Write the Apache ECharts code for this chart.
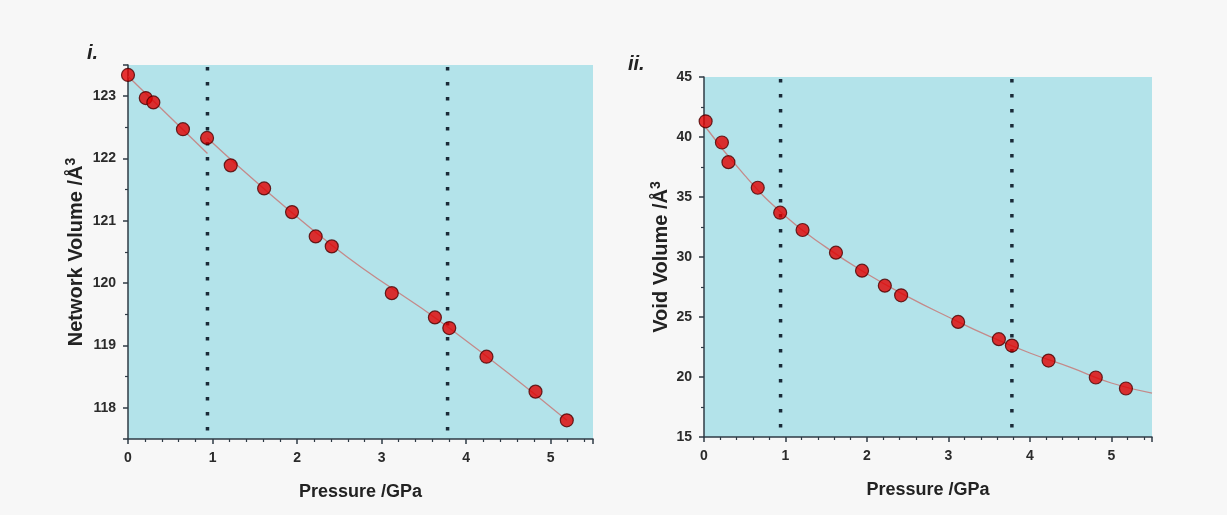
<!DOCTYPE html>
<html>
<head>
<meta charset="utf-8">
<script src="https://cdn.jsdelivr.net/npm/echarts@6/dist/echarts.min.js"></script>
<style>
html,body{margin:0;padding:0;background:#f7f7f7;}
#chart{width:1227px;height:515px;}
</style>
</head>
<body>
<div id="chart"></div>
<script>
// ---- Data ----
const pressureNetwork = [0, 0.21, 0.30, 0.65, 0.935, 1.215, 1.61, 1.94, 2.22, 2.41, 3.12, 3.63, 3.80, 4.24, 4.82, 5.19];
const networkVolume   = [123.34, 122.97, 122.90, 122.47, 122.33, 121.89, 121.52, 121.14, 120.75, 120.59, 119.84, 119.45, 119.28, 118.82, 118.26, 117.80];

const pressureVoid = [0.02, 0.22, 0.30, 0.66, 0.935, 1.21, 1.62, 1.94, 2.22, 2.42, 3.12, 3.62, 3.78, 4.23, 4.81, 5.18];
const voidVolume   = [41.31, 39.54, 37.90, 35.77, 33.69, 32.25, 30.36, 28.86, 27.61, 26.81, 24.59, 23.15, 22.62, 21.37, 19.96, 19.04];

// fit lines
const networkFitLowP = [0, 0.94];
const networkFitLowV = [123.32, 122.08];
const networkFitHighP = [0.94, 2.4, 3.8, 5.19];
const networkFitHighV = [122.33, 120.62, 119.28, 117.80];

const voidFitP = [0, 0.5, 1, 1.5, 2, 2.5, 3, 3.5, 4, 4.5, 5, 5.5];
const voidFitV = [41.0, 36.8, 33.4, 30.8, 28.6, 26.7, 25.0, 23.4, 22.0, 20.8, 19.5, 18.65];

const transitionPressures = [0.94, 3.78];

const panelLabels = ['i.', 'ii.'];
const yTitles = ['Network Volume /Å', 'Void Volume /Å'];
const xTitle = 'Pressure /GPa';

// ---- helpers ----
const zip = (a, b) => a.map((v, i) => [v, b[i]]);
const axisColor = '#2f3b45';
const labelStyle = {color: '#2b2b2b', fontFamily: 'Liberation Sans, Arial, sans-serif', fontWeight: 'bold', fontSize: 14};

function xAxisCfg(gi) {
  return {
    gridIndex: gi, type: 'value', min: 0, max: 5.5, interval: 1,
    name: xTitle, nameLocation: 'middle', nameGap: 44,
    nameTextStyle: {color: '#222', fontFamily: 'Liberation Sans, Arial, sans-serif', fontWeight: 'bold', fontSize: 18},
    axisLine: {show: true, lineStyle: {color: axisColor, width: 1.5}},
    axisTick: {show: true, length: 5, lineStyle: {color: axisColor, width: 1.5}},
    minorTick: {show: true, splitNumber: 5, length: 3, lineStyle: {color: axisColor, width: 1.2}},
    axisLabel: Object.assign({margin: 12, showMaxLabel: false}, labelStyle),
    splitLine: {show: false}
  };
}
function yAxisCfg(gi, min, max, extra, gap) {
  return Object.assign({
    gridIndex: gi, type: 'value', min: min, max: max,
    name: yTitles[gi] + '{sup|3}', nameLocation: 'middle', nameGap: gap, nameRotate: 90,
    nameTextStyle: {color: '#222', fontFamily: 'Liberation Sans, Arial, sans-serif', fontWeight: 'bold', fontSize: 20,
      rich: {sup: {fontFamily: 'Liberation Sans, Arial, sans-serif', fontWeight: 'bold', fontSize: 14, color: '#222', verticalAlign: 'top', padding: [0, 0, 10, 0]}}},
    axisLine: {show: true, lineStyle: {color: axisColor, width: 1.5}},
    axisTick: {show: true, length: 5, lineStyle: {color: axisColor, width: 1.5}},
    minorTick: {show: true, splitNumber: 2, length: 3, lineStyle: {color: axisColor, width: 1.2}},
    axisLabel: Object.assign({margin: 12}, labelStyle),
    splitLine: {show: false}
  }, extra);
}
function dotted(gi, p, ymin, ymax) {
  return {
    type: 'line', xAxisIndex: gi, yAxisIndex: gi, data: [[ymax === 45 ? p : p, ymax], [p, ymin]],
    showSymbol: false, silent: true, z: 3,
    lineStyle: {color: '#1a2a38', width: 3.5, type: [3.5, 11.5], dashOffset: -2}
  };
}
const scatterStyle = {color: '#e10000', borderColor: '#4a0000', borderWidth: 1.2};
const fitStyle = {color: '#c48a8a', width: 1.3};

const option = {
  backgroundColor: '#f7f7f7',
  animation: false,
  title: [
    {text: panelLabels[0], left: 82, top: 38, textStyle: {fontFamily: 'Liberation Sans, Arial, sans-serif', fontStyle: 'italic', fontWeight: 'bold', fontSize: 20, color: '#222'}},
    {text: panelLabels[1], left: 623, top: 49, textStyle: {fontFamily: 'Liberation Sans, Arial, sans-serif', fontStyle: 'italic', fontWeight: 'bold', fontSize: 20, color: '#222'}}
  ],
  grid: [
    {left: 128, top: 65, width: 465, height: 374, show: true, backgroundColor: '#b3e3ea', borderWidth: 0},
    {left: 704, top: 77, width: 448, height: 360, show: true, backgroundColor: '#b3e3ea', borderWidth: 0}
  ],
  xAxis: [xAxisCfg(0), xAxisCfg(1)],
  yAxis: [
    yAxisCfg(0, 117.5, 123.5, {splitNumber: 6, axisLabel: Object.assign({margin: 12, showMinLabel: false, showMaxLabel: false,
      formatter: v => (Math.abs(v - Math.round(v)) < 1e-6 ? String(Math.round(v)) : '')}, labelStyle)}, 40),
    yAxisCfg(1, 15, 45, {interval: 5}, 31)
  ],
  series: [
    dotted(0, transitionPressures[0], 117.5, 123.5),
    dotted(0, transitionPressures[1], 117.5, 123.5),
    dotted(1, transitionPressures[0], 15, 45),
    dotted(1, transitionPressures[1], 15, 45),
    {type: 'line', xAxisIndex: 0, yAxisIndex: 0, data: zip(networkFitLowP, networkFitLowV), showSymbol: false, lineStyle: fitStyle, z: 4},
    {type: 'line', xAxisIndex: 0, yAxisIndex: 0, data: zip(networkFitHighP, networkFitHighV), smooth: true, showSymbol: false, lineStyle: fitStyle, z: 4},
    {type: 'line', xAxisIndex: 1, yAxisIndex: 1, data: zip(voidFitP, voidFitV), smooth: true, showSymbol: false, lineStyle: fitStyle, z: 4},
    {type: 'scatter', xAxisIndex: 0, yAxisIndex: 0, data: zip(pressureNetwork, networkVolume), symbolSize: 13, itemStyle: scatterStyle, z: 5},
    {type: 'scatter', xAxisIndex: 1, yAxisIndex: 1, data: zip(pressureVoid, voidVolume), symbolSize: 13, itemStyle: scatterStyle, z: 5}
  ]
};
const chart = echarts.init(document.getElementById('chart'), null, {renderer: 'canvas'});
chart.setOption(option);
</script>
</body>
</html>
